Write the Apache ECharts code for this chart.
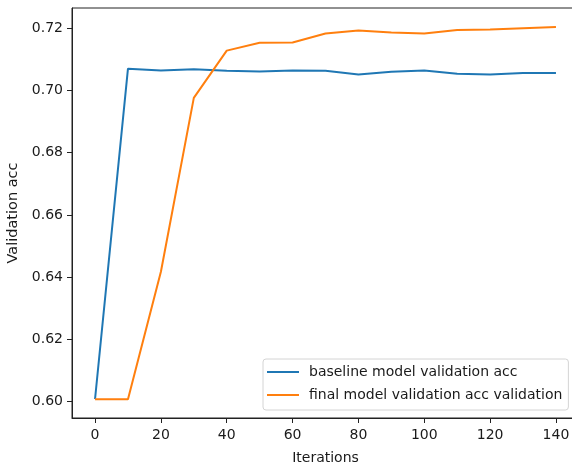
<!DOCTYPE html>
<html>
<head>
<meta charset="utf-8">
<script src="https://cdn.jsdelivr.net/npm/echarts@6/dist/echarts.min.js"></script>
<style>
    html, body { margin: 0; padding: 0; background: #fff; }
    #chart { width: 572px; height: 466px; }
</style>
</head>
<body>
<div id="chart"></div>
<script>
// iterations on the x axis
const iterations = [0, 10, 20, 30, 40, 50, 60, 70, 80, 90, 100, 110, 120, 130, 140];
// baseline model validation acc
const baselineAcc = [0.6008, 0.7070, 0.7064, 0.7068, 0.7063, 0.7061, 0.7064, 0.7063, 0.7051, 0.7060, 0.7064, 0.7054, 0.7051, 0.7056, 0.7056];
// final model validation acc
const finalAcc = [0.6007, 0.6007, 0.6417, 0.6976, 0.7128, 0.7153, 0.7154, 0.7183, 0.7193, 0.7186, 0.7183, 0.7194, 0.7196, 0.7200, 0.7204];
const xTicks = [0, 20, 40, 60, 80, 100, 120, 140];
const yTicks = [0.60, 0.62, 0.64, 0.66, 0.68, 0.70, 0.72];
const seriesNames = ['baseline model validation acc', 'final model validation acc validation'];

const textColor = '#1a1a1a';
const fontFamily = 'DejaVu Sans';

const chart = echarts.init(document.getElementById('chart'));

const lineSeries = (name, values, color) => ({
    name: name,
    type: 'line',
    data: iterations.map((x, i) => [x, values[i]]),
    showSymbol: false,
    symbol: 'none',
    lineStyle: { color: color, width: 2 },
    itemStyle: { color: color },
    animation: false
});

chart.setOption({
    backgroundColor: '#fff',
    animation: false,
    grid: {
        left: 72, top: 8, width: 507, height: 410,
        outerBoundsMode: 'none',
        containLabel: false,
        show: true, borderColor: '#222', borderWidth: 1, backgroundColor: 'transparent'
    },
    legend: {
        orient: 'vertical',
        left: 263, top: 359,
        icon: 'rect',
        itemWidth: 32, itemHeight: 2,
        itemGap: 7,
        padding: [5, 6, 7, 4],
        backgroundColor: '#fff',
        borderColor: '#d4d4d4',
        borderWidth: 1,
        borderRadius: 3,
        textStyle: { fontFamily: fontFamily, fontSize: 14, color: textColor, lineHeight: 16, padding: [0, 0, 0, 5] },
        data: seriesNames
    },
    xAxis: {
        type: 'value',
        min: -7, max: 147,
        name: 'Iterations',
        nameLocation: 'middle',
        nameGap: 33,
        nameTextStyle: { fontFamily: fontFamily, fontSize: 14, color: textColor },
        splitLine: { show: false },
        axisLine: { show: true, onZero: false, lineStyle: { color: '#222', width: 1 } },
        axisTick: { show: true, length: 5, lineStyle: { color: '#222' }, customValues: xTicks },
        axisLabel: {
            fontFamily: fontFamily, fontSize: 14, color: textColor, margin: 10,
            customValues: xTicks,
            formatter: v => String(v)
        }
    },
    yAxis: {
        type: 'value',
        min: 0.5947, max: 0.7265,
        name: 'Validation acc',
        nameLocation: 'middle',
        nameGap: 48,
        nameTextStyle: { fontFamily: fontFamily, fontSize: 14.5, color: textColor },
        splitLine: { show: false },
        axisLine: { show: true, onZero: false, lineStyle: { color: '#222', width: 1 } },
        axisTick: { show: true, length: 5, lineStyle: { color: '#222' }, customValues: yTicks },
        axisLabel: {
            fontFamily: fontFamily, fontSize: 14, color: textColor, margin: 9,
            customValues: yTicks,
            formatter: v => v.toFixed(2)
        }
    },
    series: [
        lineSeries(seriesNames[0], baselineAcc, '#1f77b4'),
        lineSeries(seriesNames[1], finalAcc, '#ff7f0e')
    ]
});
</script>
</body>
</html>
